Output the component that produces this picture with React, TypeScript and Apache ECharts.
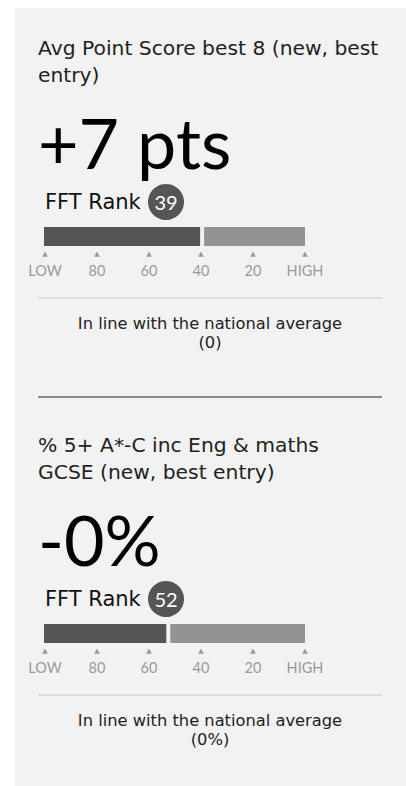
import React, { useEffect, useRef } from "react";
import * as echarts from "echarts";

// ---- data ----
const titleLines: string[][] = [
  ["Avg Point Score best 8 (new, best", "entry)"],
  ["% 5+ A*-C inc Eng & maths", "GCSE (new, best entry)"],
];
const headlineValues: string[] = ["+7 pts", "-0%"];
const fftRanks: number[] = [39, 52];
const comparisonTexts: string[] = [
  "In line with the national average",
  "In line with the national average",
];
const nationalAverages: string[] = ["(0)", "(0%)"];
const rankTicks: number[] = [100, 80, 60, 40, 20, 0];
const rankTickLabels: string[] = ["LOW", "80", "60", "40", "20", "HIGH"];

const FONT = "Lato, 'Noto Sans', sans-serif";
const WIDE = "'DejaVu Sans', 'Noto Sans', sans-serif";
const PANEL_STEP = 397;

export default function App() {
  const ref = useRef<HTMLDivElement>(null);

  useEffect(() => {
    if (!ref.current) return;
    const chart = echarts.init(ref.current, null, { renderer: "svg" });

    const tickLabel = (v: number) => {
      const idx = rankTicks.indexOf(v);
      return idx >= 0 ? rankTickLabels[idx] : "";
    };

    const graphics: any[] = [
      {
        type: "rect",
        z: -100,
        shape: { x: 15, y: 8, width: 391, height: 778 },
        style: { fill: "#f2f2f2" },
      },
    ];

    fftRanks.forEach((rank, i) => {
      const off = i * PANEL_STEP;
      graphics.push({
        type: "text",
        x: 38,
        y: 34.5 + off,
        style: {
          text: titleLines[i].join("\n"),
          font: `20.3px ${WIDE}`,
          lineHeight: 27,
          fill: "#222",
          verticalAlign: "top",
          align: "left",
        },
      });
      graphics.push({
        type: "text",
        x: 38,
        y: 142 + off,
        style: {
          text: headlineValues[i],
          font: `70px ${FONT}`,
          fill: "#000",
          verticalAlign: "middle",
          align: "left",
        },
      });
      graphics.push({
        type: "text",
        x: 45,
        y: 202 + off,
        style: {
          text: "FFT Rank",
          font: `21px ${WIDE}`,
          fill: "#111",
          verticalAlign: "middle",
          align: "left",
        },
      });
      graphics.push({
        type: "circle",
        shape: { cx: 166, cy: 202 + off, r: 18 },
        style: { fill: "#555" },
      });
      graphics.push({
        type: "text",
        x: 166,
        y: 202 + off,
        z: 10,
        style: {
          text: String(rank),
          font: `20px ${FONT}`,
          fill: "#fff",
          verticalAlign: "middle",
          align: "center",
        },
      });
      graphics.push({
        type: "line",
        shape: { x1: 38, y1: 298 + off, x2: 382, y2: 298 + off },
        style: { stroke: "#d4d4d4", lineWidth: 1.5 },
      });
      graphics.push({
        type: "text",
        x: 210,
        y: 313.5 + off,
        style: {
          text: comparisonTexts[i] + "\n" + nationalAverages[i],
          font: `16.3px ${WIDE}`,
          lineHeight: 19,
          fill: "#222",
          verticalAlign: "top",
          align: "center",
        },
      });
      if (i < fftRanks.length - 1) {
        graphics.push({
          type: "line",
          shape: { x1: 38, y1: 397 + off, x2: 382, y2: 397 + off },
          style: { stroke: "#8a8a8a", lineWidth: 2 },
        });
      }
    });

    const option: any = {
      animation: false,
      grid: fftRanks.map((_, i) => ({
        left: 45,
        width: 260,
        top: 227 + i * PANEL_STEP,
        height: 19,
      })),
      xAxis: fftRanks.map((_, i) => ({
        type: "value",
        gridIndex: i,
        min: 0,
        max: 100,
        interval: 20,
        inverse: true,
        axisLine: { show: false },
        axisTick: { show: false },
        splitLine: { show: false },
        axisLabel: {
          margin: 3,
          formatter: (v: number) => `{t|▲}\n{l|${tickLabel(v)}}`,
          rich: {
            t: { fontSize: 7, color: "#999", lineHeight: 10, fontFamily: "DejaVu Sans" },
            l: { fontSize: 14.5, color: "#9a9a9a", lineHeight: 22, fontFamily: FONT },
          },
        },
      })),
      yAxis: fftRanks.map((_, i) => ({
        type: "category",
        gridIndex: i,
        data: ["rank"],
        show: false,
      })),
      series: fftRanks.map((rank, i) => ({
        type: "custom",
        xAxisIndex: i,
        yAxisIndex: i,
        data: [[rank, 0]],
        renderItem: (params: any, api: any) => {
          const r = api.value(0);
          const start = api.coord([100, 0]);
          const split = api.coord([r, 0]);
          const end = api.coord([0, 0]);
          const h = api.size([0, 1])[1];
          const y = start[1] - h / 2;
          return {
            type: "group",
            children: [
              {
                type: "rect",
                shape: { x: start[0] - 1, y, width: split[0] - 3.5 - (start[0] - 1), height: h },
                style: { fill: "#555555" },
              },
              {
                type: "rect",
                shape: { x: split[0] + 0.5, y, width: end[0] - split[0] - 0.5, height: h },
                style: { fill: "#939393" },
              },
            ],
          };
        },
      })),
      graphic: { elements: graphics },
    };

    chart.setOption(option);
    return () => chart.dispose();
  }, []);

  return (
    <div
      ref={ref}
      style={{ position: "fixed", left: 0, top: 0, width: 406, height: 786, background: "#fff" }}
    />
  );
}
